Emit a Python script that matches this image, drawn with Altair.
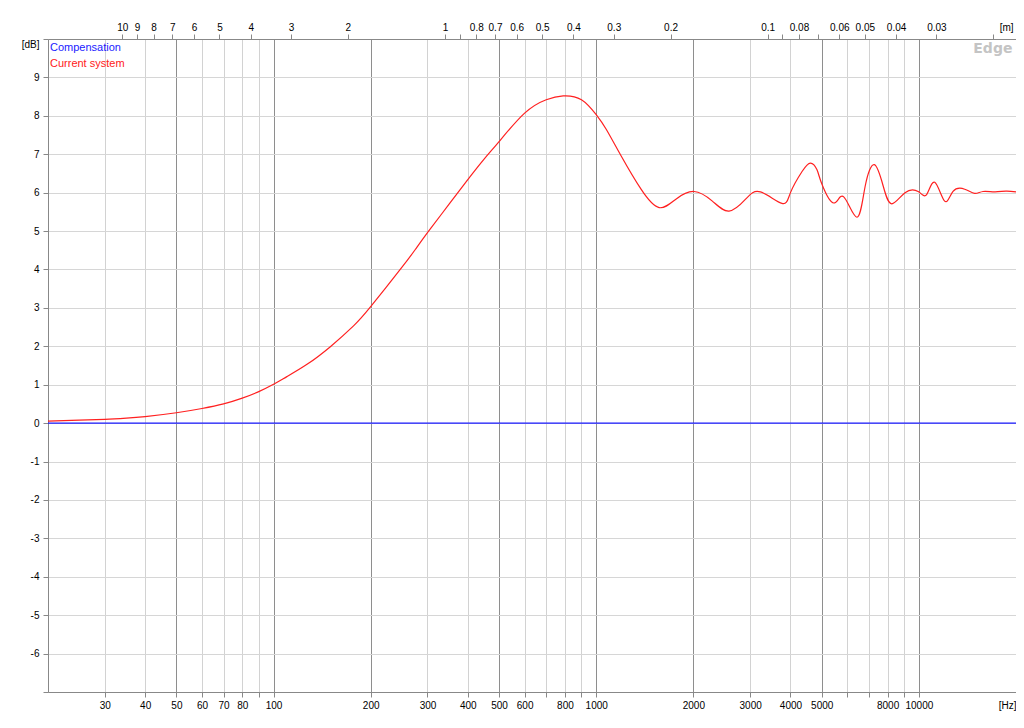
import altair as alt
import pandas as pd

# ---- data ----
freq = [20, 25, 30, 35, 40, 50, 60, 70, 80, 90, 100, 110, 127, 150, 177, 200, 247, 275, 302, 350,
        400, 450, 500, 600, 700, 790, 900, 1000, 1074, 1194, 1377, 1567, 1766, 2010, 2291, 2579,
        2904, 3228, 3765, 4000, 4345, 4613, 4830, 5012, 5450, 5850, 6430, 6814, 7280, 7760,
        8240, 9060, 9950, 10570, 11200, 12020, 12760, 13870, 14890, 15800, 17180, 18620, 20000]
current_db = [0.05, 0.08, 0.10, 0.13, 0.17, 0.27, 0.38, 0.50, 0.65, 0.82, 1.01, 1.21, 1.53, 1.99,
              2.53, 3.03, 4.00, 4.52, 4.99, 5.70, 6.34, 6.88, 7.33, 8.07, 8.42, 8.52, 8.42, 8.03,
              7.65, 6.96, 6.09, 5.61, 5.83, 6.03, 5.78, 5.52, 5.83, 6.02, 5.72, 6.00, 6.55, 6.77,
              6.60, 6.21, 5.73, 5.89, 5.36, 6.16, 6.73, 6.16, 5.71, 6.00, 6.03, 5.95, 6.27, 5.78,
              6.03, 6.09, 5.98, 6.03, 6.02, 6.04, 6.02]
comp_freq = [20, 20000]
comp_db = [0, 0]

series_names = ["Compensation", "Current system"]
series_colors = ["#1a1aff", "#ff2020"]

hz_ticks = [30, 40, 50, 60, 70, 80, 90, 100, 200, 300, 400, 500, 600, 700, 800, 900, 1000,
            2000, 3000, 4000, 5000, 6000, 7000, 8000, 9000, 10000, 20000]
hz_major = [50, 100, 200, 500, 1000, 2000, 5000, 10000]
hz_hidden = [90, 700, 900, 6000, 7000, 9000]
m_ticks = [10, 9, 8, 7, 6, 5, 4, 3, 2, 1, 0.9, 0.8, 0.7, 0.6, 0.5, 0.4, 0.3, 0.2,
           0.1, 0.09, 0.08, 0.07, 0.06, 0.05, 0.04, 0.03, 0.02]
sound_speed = 340
db_ticks = list(range(-7, 11))

cur = pd.DataFrame({"f": freq, "db": current_db, "series": series_names[1]})
comp = pd.DataFrame({"f": comp_freq, "db": comp_db, "series": series_names[0]})

FONT = "Liberation Sans"
m_tick_freqs = [sound_speed / m for m in m_ticks]

xscale = alt.Scale(type="log", domain=[20, 20000], nice=False)
yscale = alt.Scale(domain=[-7, 10], nice=False, zero=False)
color = alt.Color("series:N",
                  scale=alt.Scale(domain=series_names, range=series_colors),
                  legend=alt.Legend(title=None, orient="none", legendX=-9, legendY=3,
                                    symbolSize=0, symbolStrokeWidth=0, symbolOpacity=0,
                                    labelOffset=0, padding=0, rowPadding=4,
                                    labelFont=FONT, labelFontSize=11,
                                    labelColor=alt.ExprRef(
                                        "datum.value == 'Compensation' ? '#1a1aff' : '#ff2020'")))

yaxis = alt.Axis(values=db_ticks, title=None, grid=True, gridColor="#d6d6d6",
                 labelExpr="datum.value == 10 ? '[dB]' : (datum.value == -7 ? '' : '' + datum.value)",
                 labelFlush=True, tickSize=5, labelPadding=4)

bottom_axis = alt.Axis(
    orient="bottom", values=hz_ticks, title=None, tickSize=5, labelPadding=3,
    labelFlush=True,
    labelExpr=("datum.value >= 19000 ? '[Hz]' : (indexof(%s, datum.value) >= 0 ? '' : datum.value)"
               % str(hz_hidden)),
    grid=True,
    gridColor={"condition": {"test": "indexof(%s, datum.value) >= 0" % str(hz_major),
                             "value": "#8e8e8e"},
               "value": "#d2d2d2"},
)

top_axis = alt.Axis(
    orient="top", values=m_tick_freqs, title=None, tickSize=5, labelPadding=2, grid=False,
    labelExpr=("datum.value > 16000 ? '[m]' : (indexof([90, 9, 7], round(%d*100/datum.value)) >= 0 ? '' : '' + round(%d*100/datum.value)/100)"
               % (sound_speed, sound_speed)),
    labelAlign={"condition": {"test": "datum.value > 16000", "value": "left"}, "value": "center"},
    labelOffset={"condition": {"test": "datum.value > 16000", "value": 6}, "value": 0},
)

comp_line = alt.Chart(comp).mark_line(strokeWidth=1.2).encode(
    x=alt.X("f:Q", scale=xscale, axis=top_axis),
    y=alt.Y("db:Q", scale=yscale, axis=yaxis),
    color=color,
)

cur_line = alt.Chart(cur).mark_line(strokeWidth=1.2, interpolate="natural").encode(
    x=alt.X("f:Q", scale=xscale, axis=bottom_axis),
    y=alt.Y("db:Q", scale=yscale, axis=yaxis),
    color=color,
)

chart = alt.layer(comp_line, cur_line).resolve_axis(x="independent").properties(
    width=968, height=653,
    autosize=alt.AutoSizeParams(type="none"),
    padding={"left": 40, "top": 31, "right": 0, "bottom": 24},
    title=alt.TitleParams("Edge", anchor="end", color="#c4c4c4", fontSize=14,
                          fontWeight="bold", font="DejaVu Sans", dx=-6, dy=38),
).configure_view(
    stroke="#333333", strokeWidth=1
).configure_axis(
    labelFont=FONT, labelFontSize=11, labelColor="#222222",
    domainColor="#333333", tickColor="#333333", gridWidth=1,
).configure(background="white")

chart.save("out.html", embed_options={"renderer": "svg", "actions": False})
